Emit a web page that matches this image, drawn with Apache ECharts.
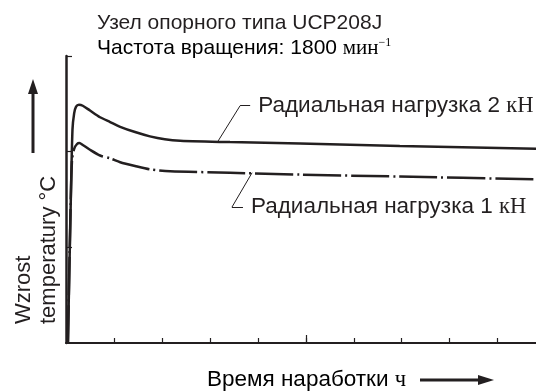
<!DOCTYPE html>
<html>
<head>
<meta charset="utf-8">
<script src="https://cdn.jsdelivr.net/npm/echarts@6/dist/echarts.min.js"></script>
<style>html,body{margin:0;padding:0;background:#fff}#c{width:536px;height:392px}</style>
</head>
<body>
<div id="c"></div>
<script>
// Data (x = operating time in axis units, y = temperature rise in axis units)
var load2X = [0.04, 0.10, 0.135, 0.17, 0.21, 0.27, 0.35, 0.50, 0.71, 0.92, 1.13, 1.44, 1.75, 2.06, 2.38, 3.42, 4.88, 6.96, 9.8];
var load2Y = [0, 1.49, 2.23, 2.40, 2.47, 2.49, 2.48, 2.43, 2.36, 2.31, 2.26, 2.205, 2.16, 2.13, 2.115, 2.10, 2.085, 2.06, 2.03];
var load1X = [0.04, 0.09, 0.125, 0.17, 0.23, 0.28, 0.35, 0.50, 0.71, 0.92, 1.13, 1.44, 1.75, 2.17, 3.42, 4.88, 6.96, 9.8];
var load1Y = [0, 1.29, 1.91, 2.03, 2.08, 2.09, 2.07, 2.02, 1.96, 1.93, 1.89, 1.85, 1.815, 1.795, 1.78, 1.76, 1.74, 1.71];
var xTicks = [1, 2, 3, 4, 5, 6, 7, 8, 9];
var xMajorTicks = [5];
var yTicks = [1, 2, 3];
var labelLoad2 = ['Радиальная нагрузка 2 ', 'кН'];
var labelLoad1 = ['Радиальная нагрузка 1 ', 'кН'];
var leader2 = [[3.17, 2.11], [3.63, 2.48], [3.84, 2.48]];
var leader1 = [[3.88, 1.78], [3.46, 1.42], [3.69, 1.42]];
var titleLine1 = 'Узел опорного типа UCP208J';
var titleLine2 = ['Частота вращения: 1800 ', 'мин', '−1'];
var yName = 'Wzrost\ntemperatury °C';
var xName = ['Время наработки ', 'ч'];

function zip(xs, ys) { return xs.map(function (x, i) { return [x, ys[i]]; }); }

var SANS = '"Liberation Sans", Arial, sans-serif';
var SERIF = '"Liberation Serif", "Times New Roman", serif';
var INK = '#231f20';
var FS = 21;
var FSL = 22.5;

function leaderLines(pts, label) {
  return [
    [{ coord: pts[0] }, { coord: pts[1] }],
    [{ coord: pts[1] }, { coord: pts[2],
      label: { show: true, position: 'end', distance: 8,
        formatter: '{a|' + label[0] + '}{b|' + label[1] + '}',
        rich: { a: { fontFamily: SANS, fontSize: FSL, color: INK },
                b: { fontFamily: SERIF, fontSize: FSL, color: INK } } } }]
  ];
}

var chart = echarts.init(document.getElementById('c'), null, { renderer: 'canvas' });
chart.setOption({
  animation: false,
  backgroundColor: '#fff',
  grid: { left: 66, right: 0, top: 56, bottom: 49, containLabel: false },
  xAxis: [{
    type: 'value', min: 0, max: 9.8, position: 'bottom',
    axisLine: { show: true, onZero: false, lineStyle: { color: INK, width: 2 } },
    axisTick: { show: true, inside: true, length: 5, customValues: xTicks, lineStyle: { color: INK, width: 1.2 } },
    axisLabel: { show: false }, splitLine: { show: false }
  }, {
    type: 'value', min: 0, max: 9.8, position: 'bottom',
    axisLine: { show: false },
    axisTick: { show: true, inside: true, length: 8, customValues: xMajorTicks, lineStyle: { color: INK, width: 1.2 } },
    axisLabel: { show: false }, splitLine: { show: false }
  }],
  yAxis: {
    type: 'value', min: 0, max: 3, position: 'left',
    axisLine: { show: true, onZero: false, lineStyle: { color: INK, width: 2.5 } },
    axisTick: { show: true, inside: true, length: 6, customValues: yTicks, lineStyle: { color: INK, width: 1.2 } },
    axisLabel: { show: false }, splitLine: { show: false }
  },
  series: [{
    type: 'line', xAxisIndex: 0, data: zip(load2X, load2Y), showSymbol: false, smooth: 0.25,
    lineStyle: { color: INK, width: 2.5 },
    markLine: { silent: true, symbol: 'none', animation: false,
      lineStyle: { color: INK, width: 1, type: 'solid' }, label: { show: false },
      data: leaderLines(leader2, labelLoad2) }
  }, {
    type: 'line', xAxisIndex: 0, data: zip(load1X, load1Y), showSymbol: false, smooth: 0.25,
    lineStyle: { color: INK, width: 2.5, type: [38, 4, 2, 4] },
    markLine: { silent: true, symbol: 'none', animation: false,
      lineStyle: { color: INK, width: 1, type: 'solid' }, label: { show: false },
      data: leaderLines(leader1, labelLoad1) }
  }],
  graphic: [
    { type: 'text', x: 97, y: 23, style: { text: titleLine1, font: FS + 'px ' + SANS, fill: INK, verticalAlign: 'middle', align: 'left' } },
    { type: 'text', x: 97, y: 48, style: {
        text: '{a|' + titleLine2[0] + '}{b|' + titleLine2[1] + '}{c|' + titleLine2[2] + '}',
        verticalAlign: 'middle', align: 'left',
        rich: { a: { fontFamily: SANS, fontSize: FS, color: INK },
                b: { fontFamily: SERIF, fontSize: FS, color: INK },
                c: { fontFamily: SERIF, fontSize: 12, color: INK, verticalAlign: 'top', padding: [0, 0, 10, 0] } } } },
    { type: 'text', x: 11, y: 324, rotation: Math.PI / 2, originX: 0, originY: 0,
      style: { text: yName, font: '22px ' + SANS, fill: INK, lineHeight: 25, align: 'left', verticalAlign: 'top' } },
    { type: 'line', shape: { x1: 33, y1: 153, x2: 33, y2: 90 }, style: { stroke: INK, lineWidth: 3 } },
    { type: 'polygon', shape: { points: [[28, 94], [38, 94], [33, 79]] }, style: { fill: INK } },
    { type: 'text', x: 207, y: 380, style: {
        text: '{a|' + xName[0] + '}{b|' + xName[1] + '}', verticalAlign: 'middle', align: 'left',
        rich: { a: { fontFamily: SANS, fontSize: 22.5, color: INK }, b: { fontFamily: SERIF, fontSize: 22.5, color: INK } } } },
    { type: 'line', shape: { x1: 420, y1: 380, x2: 482, y2: 380 }, style: { stroke: INK, lineWidth: 3 } },
    { type: 'polygon', shape: { points: [[478, 375], [478, 385], [494, 380]] }, style: { fill: INK } }
  ]
});
</script>
</body>
</html>
